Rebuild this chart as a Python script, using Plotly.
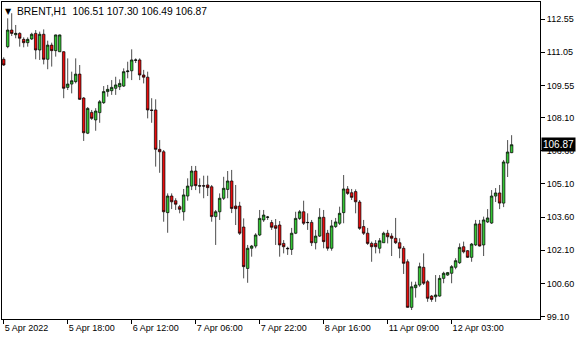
import plotly.graph_objects as go

# bar index (H1 bars from 5 Apr 2022 00:00)
opens = [110.73,111.30,112.05,111.84,111.90,111.63,111.48,111.65,111.90,111.15,
         111.86,110.73,111.37,111.12,111.07,111.07,109.46,109.61,109.72,110.06,
         108.98,107.39,108.33,107.99,108.32,108.77,109.27,109.31,109.42,109.49,
         109.52,110.17,110.21,110.68,110.70,110.02,109.92,108.44,108.44,106.66,
         106.55,103.80,104.55,104.34,104.07,103.84,104.55,105.00,105.68,105.02,
         105.02,105.05,104.97,103.62,103.84,104.45,104.85,105.23,104.10,104.10,
         103.15,101.28,102.19,102.29,102.79,103.47,103.59,103.35,103.21,103.24,
         102.41,102.19,102.14,102.87,103.54,103.84,103.36,103.36,102.44,102.74,
         103.59,102.87,102.19,103.17,103.32,103.80,104.87,104.70,104.75,104.28,
         103.17,102.87,102.41,102.41,102.19,102.44,102.87,102.74,102.64,102.44,
         102.19,101.58,99.52,100.41,100.53,101.33,100.68,100.03,100.00,100.03,
         100.83,100.98,101.06,101.33,101.54,102.26,102.08,101.78,102.34,103.29,
         102.34,103.38,103.33,104.55,104.69,104.23,106.04,106.51]
highs = [110.82,112.58,112.81,112.28,111.95,111.72,111.72,111.93,112.05,111.98,
         112.08,111.57,111.48,111.85,111.85,111.10,110.77,110.17,110.77,110.47,
         109.02,108.57,108.44,108.52,108.89,109.52,109.57,109.79,109.94,109.82,
         110.32,110.62,111.18,110.77,110.77,110.25,110.17,108.97,108.92,107.08,
         106.63,104.67,104.67,104.45,104.15,104.87,105.35,105.91,105.91,105.35,
         105.47,105.47,105.05,103.92,104.67,105.42,105.68,105.73,105.05,104.29,
         103.54,102.34,102.34,102.87,103.92,103.92,103.65,103.47,103.51,103.42,
         102.56,102.26,103.11,103.84,103.92,104.34,103.77,103.47,103.02,104.00,
         103.92,103.02,103.47,103.56,104.07,105.50,105.00,104.87,104.85,104.37,
         103.47,103.11,102.49,102.56,102.65,102.94,103.02,102.87,103.56,102.64,
         102.29,101.69,100.68,100.68,101.54,101.96,100.76,100.08,100.98,100.98,
         101.13,101.12,101.43,101.74,102.41,102.49,102.11,102.43,103.47,103.47,
         103.62,103.96,104.82,104.91,105.05,106.18,107.08,107.30]
lows = [110.43,111.23,111.78,111.68,111.30,111.27,111.30,111.60,110.73,110.70,
        110.50,110.28,110.40,110.85,111.06,108.97,109.34,109.19,109.64,108.89,
        107.04,107.35,107.99,107.50,107.86,108.71,109.04,109.12,109.12,109.34,
        109.48,109.87,109.79,110.56,109.79,109.64,108.06,107.86,105.88,105.60,
        103.39,102.89,103.96,103.92,103.77,103.44,104.34,104.82,104.82,104.67,
        104.45,104.55,103.39,102.34,103.47,104.37,104.45,103.78,103.24,102.79,
        100.83,100.63,101.81,102.19,102.74,103.38,103.47,103.02,102.34,101.81,
        101.96,101.89,101.89,102.83,103.47,103.24,103.02,102.29,102.14,102.70,
        102.19,102.08,102.08,103.11,103.24,103.32,104.60,104.37,103.77,103.02,
        102.79,102.34,101.58,101.96,101.96,102.43,102.41,101.84,102.38,101.74,
        101.03,99.50,99.40,99.96,100.45,100.53,99.77,99.77,99.77,100.00,
        100.61,100.94,100.61,101.24,101.48,101.96,101.75,101.58,102.29,102.27,
        101.84,103.33,103.29,104.28,103.96,104.05,105.41,106.49]
closes = [110.47,112.05,111.90,111.90,111.68,111.48,111.63,111.86,111.15,111.86,
          110.73,111.37,111.12,111.83,111.83,109.42,109.61,109.76,110.06,108.92,
          107.41,108.51,108.06,108.39,108.81,109.27,109.37,109.46,109.57,109.64,
          110.17,110.20,110.70,110.70,110.02,109.92,108.44,108.42,106.66,106.55,
          103.84,104.55,104.29,104.18,103.95,104.60,105.00,105.68,105.02,105.00,
          105.00,104.93,103.62,103.84,104.45,104.90,105.23,103.99,103.98,102.87,
          101.36,102.19,102.29,102.79,103.54,103.69,103.60,103.14,103.09,102.34,
          102.26,102.17,102.87,103.54,103.84,103.32,103.35,102.44,102.74,103.59,
          102.49,102.19,103.20,103.38,103.77,104.87,104.67,104.49,104.29,103.09,
          102.87,102.41,102.26,102.26,102.53,102.87,102.71,102.64,102.44,102.19,
          101.51,99.52,100.45,100.53,101.36,100.61,99.93,99.88,100.08,100.83,
          101.06,101.09,101.36,101.63,102.23,102.03,101.78,102.38,103.29,102.29,
          103.47,103.56,104.55,104.69,104.23,106.09,106.54,106.87]

x_tick_bars = [0, 16, 32, 48, 64, 80, 96, 112]
x_tick_labels = ["5 Apr 2022", "5 Apr 18:00", "6 Apr 12:00", "7 Apr 06:00",
                 "7 Apr 22:00", "8 Apr 16:00", "11 Apr 09:00", "12 Apr 03:00"]
y_tick_vals = [99.10, 100.60, 102.10, 103.60, 105.10, 106.60, 108.10, 109.55, 111.05, 112.55]

symbol = "BRENT,H1"
last_price = closes[-1]

xs = list(range(len(opens)))

fig = go.Figure(go.Candlestick(
    x=xs, open=opens, high=highs, low=lows, close=closes,
    increasing=dict(line=dict(color="black", width=0.7), fillcolor="#33c433"),
    decreasing=dict(line=dict(color="black", width=0.7), fillcolor="#e80c0c"),
    whiskerwidth=0, hoverinfo="skip",
))

font = dict(family="Liberation Sans, Arial, sans-serif", size=9, color="black")

fig.update_layout(
    width=580, height=340,
    margin=dict(l=2, r=40, t=2, b=21),
    paper_bgcolor="white", plot_bgcolor="white",
    showlegend=False, font=font,
    boxgap=0.36, boxgroupgap=0,
    xaxis=dict(
        range=[-0.425, 134.1], rangeslider=dict(visible=False),
        tickmode="array", tickvals=x_tick_bars, ticktext=x_tick_labels,
        ticks="outside", ticklen=4, tickcolor="black",
        ticklabelposition="outside right",
        showgrid=False, zeroline=False,
        showline=True, mirror=True, linecolor="black", linewidth=1,
        tickfont=font,
    ),
    yaxis=dict(
        range=[98.994, 113.318], side="right",
        tickmode="array", tickvals=y_tick_vals,
        ticktext=[f"{v:.2f}" for v in y_tick_vals],
        ticks="outside", ticklen=4, tickcolor="black",
        showgrid=False, zeroline=False,
        showline=True, mirror=True, linecolor="black", linewidth=1,
        tickfont=font,
    ),
)

header = f"{symbol}  {opens[-1]:.2f} {highs[-1]:.2f} {lows[-1]:.2f} {closes[-1]:.2f}"
fig.add_annotation(xref="paper", yref="paper", x=0, y=1, xanchor="left", yanchor="top",
                   xshift=13, yshift=-2, text=header, showarrow=False,
                   font=dict(family="Liberation Sans, Arial, sans-serif", size=10.3, color="black"))
fig.add_annotation(xref="paper", yref="paper", x=0, y=1, xanchor="left", yanchor="top",
                   xshift=1, yshift=-3, text="▼", showarrow=False,
                   font=dict(family="DejaVu Sans", size=8, color="black"))
fig.add_annotation(xref="paper", yref="y", x=1, y=last_price, xanchor="left", yanchor="middle",
                   xshift=1, text=f"{last_price:.2f}", showarrow=False,
                   bgcolor="black", borderpad=1,
                   font=dict(family="Liberation Sans, Arial, sans-serif", size=10, color="white"))

fig.write_html("out.html")
